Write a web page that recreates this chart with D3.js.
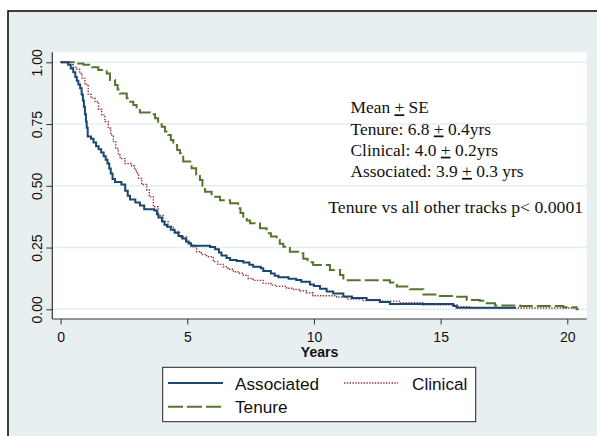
<!DOCTYPE html>
<html>
<head>
<meta charset="utf-8">
<script src="https://cdn.jsdelivr.net/npm/d3@7"></script>
<style>
html,body{margin:0;padding:0;background:#fff;}
svg{display:block;}
</style>
</head>
<body>
<svg id="chart" width="597" height="436"></svg>
<script>
// ---- data (Kaplan-Meier step points: time in years, survival fraction) ----
const assocTimes = [0,0.30,0.40,0.50,0.58,0.64,0.70,0.77,0.83,0.88,0.92,0.96,1.00,1.03,1.07,1.20,1.30,1.40,1.50,1.60,1.70,1.78,1.85,1.92,1.98,2.05,2.15,2.40,2.55,2.65,2.74,2.95,3.13,3.30,3.70,3.80,3.86,4.00,4.10,4.20,4.35,4.50,4.65,4.80,4.95,5.05,5.15,5.25,5.90,6.10,6.25,6.35,6.55,6.69,6.95,7.21,7.45,7.60,7.90,8.00,8.30,8.45,8.60,9.00,9.30,9.50,9.84,10.00,10.24,10.50,10.76,11.16,11.50,12.08,12.60,13.00,15.50,15.63,17.97];
const assocSurv  = [1.00,0.99,0.975,0.96,0.94,0.925,0.91,0.895,0.87,0.845,0.82,0.79,0.76,0.735,0.70,0.69,0.675,0.66,0.648,0.635,0.62,0.605,0.59,0.57,0.55,0.528,0.515,0.505,0.48,0.46,0.445,0.432,0.42,0.405,0.40,0.385,0.372,0.355,0.342,0.334,0.322,0.31,0.297,0.287,0.275,0.266,0.258,0.257,0.252,0.243,0.23,0.218,0.208,0.20,0.196,0.189,0.18,0.172,0.166,0.155,0.145,0.136,0.13,0.124,0.119,0.112,0.10,0.094,0.083,0.072,0.064,0.052,0.046,0.038,0.03,0.021,0.013,0.006,0.006];

const clinTimes = [0,0.37,0.50,0.64,0.75,0.85,0.96,1.09,1.20,1.36,1.50,1.62,1.75,1.88,1.98,2.08,2.18,2.28,2.35,2.54,2.81,2.92,3.00,3.08,3.20,3.40,3.50,3.66,3.85,4.05,4.25,4.45,4.70,4.98,5.15,5.37,5.55,5.77,6.03,6.20,6.42,6.60,6.82,7.00,7.21,7.40,7.60,8.00,8.30,8.53,8.92,9.20,9.45,9.70,9.96,10.90,11.30,11.90,12.70,13.40,14.30,15.70,16.20,20.30];
const clinSurv  = [1.00,0.99,0.98,0.972,0.955,0.935,0.91,0.87,0.855,0.84,0.81,0.787,0.76,0.733,0.705,0.68,0.65,0.625,0.61,0.59,0.58,0.565,0.55,0.53,0.505,0.483,0.455,0.415,0.38,0.355,0.335,0.315,0.293,0.273,0.253,0.233,0.222,0.213,0.193,0.182,0.172,0.162,0.152,0.146,0.138,0.125,0.117,0.105,0.098,0.093,0.085,0.08,0.075,0.067,0.055,0.05,0.041,0.035,0.033,0.027,0.018,0.011,0.005,0.005];

const tenTimes = [0,0.70,0.90,1.23,1.49,1.82,1.95,2.15,2.25,2.34,2.61,2.75,2.87,3.00,3.13,3.53,3.73,3.85,3.99,4.12,4.25,4.35,4.45,4.60,4.71,4.84,5.17,5.35,5.50,5.60,5.70,5.96,6.29,6.69,7.01,7.10,7.21,7.35,7.48,7.87,8.13,8.30,8.53,8.65,8.79,9.05,9.45,9.58,9.75,9.97,10.63,11.03,11.16,13.00,13.27,13.79,14.32,14.97,15.50,16.03,16.55,16.82,17.15,18.13,19.84,20.37,20.45];
const tenSurv  = [1.00,0.995,0.99,0.98,0.969,0.955,0.928,0.908,0.89,0.874,0.854,0.84,0.827,0.812,0.797,0.79,0.773,0.755,0.739,0.72,0.706,0.685,0.665,0.645,0.632,0.598,0.571,0.545,0.523,0.50,0.476,0.456,0.442,0.429,0.409,0.39,0.375,0.36,0.348,0.328,0.308,0.295,0.281,0.265,0.253,0.233,0.227,0.205,0.19,0.179,0.159,0.139,0.118,0.108,0.092,0.081,0.06,0.054,0.051,0.038,0.035,0.024,0.015,0.013,0.008,0.0,0.0];

const xTicks = [0,5,10,15,20];
const yTicks = [0,0.25,0.5,0.75,1];
const yTickLabels = ["0.00","0.25","0.50","0.75","1.00"];
const seriesNames = ["Associated","Clinical","Tenure"];
const noteLines = [
  ["Mean ", "+", " SE"],
  ["Tenure: 6.8 ", "+", " 0.4yrs"],
  ["Clinical: 4.0 ", "+", " 0.2yrs"],
  ["Associated: 3.9 ", "+", " 0.3 yrs"]
];
const pNote = "Tenure vs all other tracks p< 0.0001";

// ---- layout ----
const svg = d3.select("#chart");
const bg = "#e8eff1";
const grid = "#e4edf0";
const colors = {Associated:"#1a476f", Clinical:"#90353b", Tenure:"#55752f"};
const plot = {left:52.3, top:52.3, right:586.7, bottom:319};

const x = d3.scaleLinear().domain([0,20]).range([60.6,567.3]);
const y = d3.scaleLinear().domain([0,1]).range([309.3,62.3]);

// outer frame
svg.append("rect").attr("x",8).attr("y",11).attr("width",600).attr("height",440)
  .attr("fill",bg).attr("stroke","#000").attr("stroke-width",1.5);

// plot region
svg.append("rect").attr("x",plot.left).attr("y",plot.top)
  .attr("width",plot.right-plot.left).attr("height",plot.bottom-plot.top).attr("fill","#fff");

// gridlines
svg.append("g").selectAll("line").data(yTicks).join("line")
  .attr("x1",plot.left).attr("x2",plot.right)
  .attr("y1",d=>y(d)).attr("y2",d=>y(d))
  .attr("stroke",grid).attr("stroke-width",1.6);

// axes
const yAxis = d3.axisLeft(y).tickValues(yTicks).tickSize(6)
  .tickFormat((d,i)=>yTickLabels[i]);
const gy = svg.append("g").attr("transform",`translate(${plot.left},0)`).call(yAxis);
gy.select(".domain").remove();
gy.selectAll(".tick line").attr("stroke","#333");
gy.selectAll(".tick text")
  .attr("transform","rotate(-90)").attr("x",0).attr("y",-10.6).attr("dy",0)
  .attr("text-anchor","middle")
  .attr("font-family","'Liberation Sans', Arial, sans-serif").attr("font-size",14).attr("fill","#111");

const xAxis = d3.axisBottom(x).tickValues(xTicks).tickSize(5.5).tickFormat(d3.format("d"));
const gx = svg.append("g").attr("transform",`translate(0,${plot.bottom})`).call(xAxis);
gx.select(".domain").remove();
gx.selectAll(".tick line").attr("stroke","#333");
gx.selectAll(".tick text").attr("y",0).attr("dy",0).attr("transform","translate(0,22.5)")
  .attr("font-family","'Liberation Sans', Arial, sans-serif").attr("font-size",14).attr("fill","#111");

// axis lines
svg.append("line").attr("x1",plot.left).attr("x2",plot.left).attr("y1",plot.top).attr("y2",plot.bottom)
  .attr("stroke","#333").attr("stroke-width",1.2);
svg.append("line").attr("x1",plot.left).attr("x2",plot.right).attr("y1",plot.bottom).attr("y2",plot.bottom)
  .attr("stroke","#333").attr("stroke-width",1.2);

svg.append("text").attr("x",(plot.left+plot.right)/2).attr("y",356.5)
  .attr("text-anchor","middle").attr("font-family","'Liberation Sans', Arial, sans-serif")
  .attr("font-weight","bold").attr("font-size",14).attr("fill","#111").text("Years");

// curves
const line = d3.line().x(d=>x(d[0])).y(d=>y(d[1])).curve(d3.curveStepAfter);
const series = [
  {name:"Associated", pts:d3.zip(assocTimes,assocSurv), dash:null, w:2},
  {name:"Clinical", pts:d3.zip(clinTimes,clinSurv), dash:"1.4,1.4", w:1.4},
  {name:"Tenure", pts:d3.zip(tenTimes,tenSurv), dash:"14,4", w:2}
];
const order = ["Tenure","Clinical","Associated"];
order.forEach(n=>{
  const s = series.find(d=>d.name===n);
  svg.append("path").attr("d",line(s.pts)).attr("fill","none")
    .attr("stroke",colors[n]).attr("stroke-width",s.w)
    .attr("stroke-dasharray",s.dash);
});

// annotations
const serif = "'Liberation Serif', 'Times New Roman', serif";
const noteY = [113.3,134.5,155.7,176.9];
noteLines.forEach((parts,i)=>{
  const t = svg.append("text").attr("x",350.5).attr("y",noteY[i])
    .attr("font-family",serif).attr("font-size",17.4).attr("fill","#111");
  t.append("tspan").text(parts[0]);
  t.append("tspan").attr("text-decoration","underline").style("text-decoration","underline").text(parts[1]);
  t.append("tspan").text(parts[2]);
});
svg.append("text").attr("x",328.3).attr("y",212.7)
  .attr("font-family",serif).attr("font-size",17.7).attr("fill","#111").text(pNote);

// legend
const lg = svg.append("g");
lg.append("rect").attr("x",162.7).attr("y",367.3).attr("width",313).attr("height",54.4)
  .attr("fill","#fff").attr("stroke","#222").attr("stroke-width",1);
const legendItems = [
  {name:seriesNames[0], x1:168, x2:223, ly:383, tx:235, ty:389.5},
  {name:seriesNames[1], x1:344, x2:398, ly:383, tx:412, ty:389.5},
  {name:seriesNames[2], x1:168, x2:223, ly:406.7, tx:235, ty:413}
];
legendItems.forEach(it=>{
  const s = series.find(d=>d.name===it.name);
  lg.append("line").attr("x1",it.x1).attr("x2",it.x2).attr("y1",it.ly).attr("y2",it.ly)
    .attr("stroke",colors[it.name]).attr("stroke-width",s.w)
    .attr("stroke-dasharray", it.name==="Tenure" ? "15,4" : s.dash);
  lg.append("text").attr("x",it.tx).attr("y",it.ty)
    .attr("font-family","'Liberation Sans', Arial, sans-serif").attr("font-size",17.2)
    .attr("fill","#111").text(it.name);
});
</script>
</body>
</html>
